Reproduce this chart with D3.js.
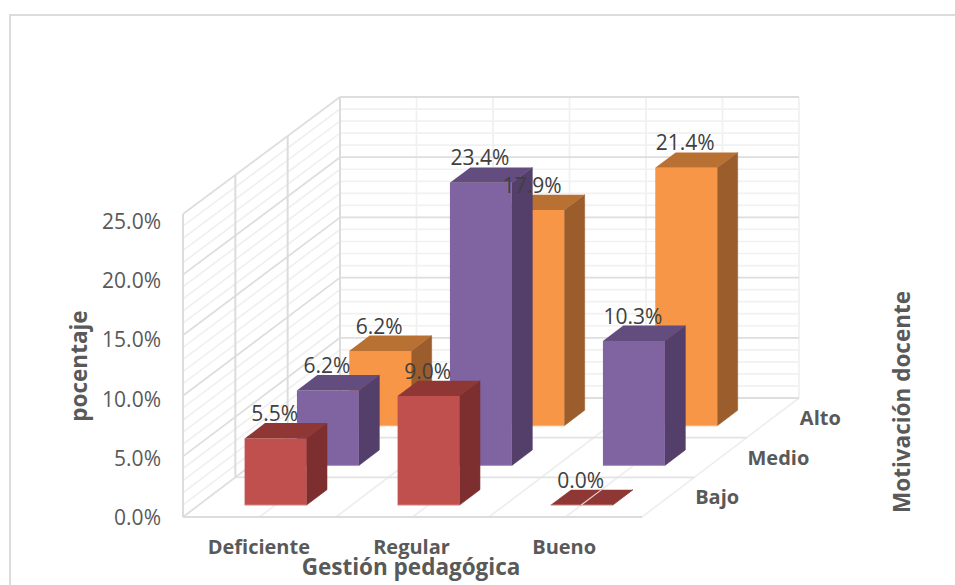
<!DOCTYPE html>
<html>
<head>
<meta charset="utf-8">
<script src="https://cdn.jsdelivr.net/npm/d3@7"></script>
<style>
  html, body { margin: 0; padding: 0; background: #fff; }
  svg { display: block; }
  text { font-family: "Open Sans", "Noto Sans", sans-serif; }
</style>
</head>
<body>
<svg id="chart" width="955" height="585"></svg>
<script>
// Percentages by teaching management level, one list per motivation row.
const categories = ["Deficiente", "Regular", "Bueno"];
const depthRows = ["Bajo", "Medio", "Alto"];
const valuesBajo = [5.5, 9.0, 0.0];
const valuesMedio = [6.2, 23.4, 10.3];
const valuesAlto = [6.2, 17.9, 21.4];
const yTicks = [0, 5, 10, 15, 20, 25];
const yMinorTicks = d3.range(0, 26);
const seriesValues = [valuesBajo, valuesMedio, valuesAlto];

const palette = [
  { face: "#c0504d", top: "#8f3735", side: "#7c2f2e", edge: "#d98f8c" },
  { face: "#8064a2", top: "#634c7e", side: "#533f69", edge: "#a892c0" },
  { face: "#f79646", top: "#b97033", side: "#9a5d2b", edge: "#f9b27a" }
];

const svg = d3.select("#chart");

// Oblique projection: u runs along the categories, w into the depth, v up the value axis.
const xBase = d3.scaleLinear().domain([0, 3]).range([183, 642]);
const xShift = d3.scaleLinear().domain([0, 3]).range([0, 157]);
const yFloor = d3.scaleLinear().domain([0, 3]).range([517, 398]);
const yRoof = d3.scaleLinear().domain([0, 3]).range([214, 97]);
// Tick labels are spaced slightly tighter than the wall's front edge
const yLabels = d3.scaleLinear().domain([0, 25]).range([517, 221]);
const xLabels = d3.scaleLinear().domain([0, 3]).range([182, 640]);

function project(u, w, v) {
  const t = v / 25;
  return [xBase(u) + xShift(w), yFloor(w) + (yRoof(w) - yFloor(w)) * t];
}
const line = pts => "M" + pts.map(p => p.join(",")).join("L");
const poly = pts => line(pts) + "Z";

// Outer chart frame, open at the right and bottom edges of the page
svg.append("path").attr("d", "M10,585V15H955")
  .attr("fill", "none").attr("stroke", "#dcdcdc").attr("stroke-width", 2);

const grid = svg.append("g").attr("fill", "none");
function gridLine(a, b, color, width) {
  grid.append("path").attr("d", line([a, b])).attr("stroke", color).attr("stroke-width", width);
}

// Minor value lines first so the major ones stay on top
yMinorTicks.filter(v => v % 5 !== 0).forEach(v => {
  gridLine(project(0, 0, v), project(0, 3, v), "#f0f0f0", 1.7);
  gridLine(project(0, 3, v), project(3, 3, v), "#f1f1f1", 1.7);
});

// Vertical minor lines on the back wall
d3.range(0.5, 3.5, 0.5).forEach(u =>
  gridLine(project(u, 3, 0), project(u, 3, 25), "#f0f0f0", 1.7));

// Floor
d3.range(0.5, 3.5, 0.5).forEach(u =>
  gridLine(project(u, 0, 0), project(u, 3, 0), "#eeeeee", 1.7));
[1, 2].forEach(w => gridLine(project(0, w, 0), project(3, w, 0), "#e3e3e3", 1.8));

// Major value lines every 5%
yTicks.forEach(v => {
  gridLine(project(0, 0, v), project(0, 3, v), "#dedede", 1.8);
  gridLine(project(0, 3, v), project(3, 3, v), "#dedede", 1.8);
});

// Vertical lines on the side wall
[0, 1, 2, 3].forEach(w => gridLine(project(0, w, 0), project(0, w, 25), "#dcdcdc", 2));
gridLine(project(0, 0, 0), project(3, 0, 0), "#dcdcdc", 2);

// Bars, painted from the back row forward
const barU = [0.30, 0.705];
const barW = [0.30, 0.69];
const bars = svg.append("g");

d3.range(2, -1, -1).forEach(r => {
  const pal = palette[r];
  seriesValues[r].forEach((value, c) => {
    const u0 = c + barU[0], u1 = c + barU[1];
    const w0 = r + barW[0], w1 = r + barW[1];
    const g = bars.append("g");
    g.append("path")
      .attr("d", poly([project(u1, w0, 0), project(u1, w1, 0), project(u1, w1, value), project(u1, w0, value)]))
      .attr("fill", pal.side).attr("stroke", pal.side).attr("stroke-width", 0.6);
    g.append("path")
      .attr("d", poly([project(u0, w0, 0), project(u1, w0, 0), project(u1, w0, value), project(u0, w0, value)]))
      .attr("fill", pal.face);
    g.append("path")
      .attr("d", poly([project(u0, w0, value), project(u1, w0, value), project(u1, w1, value), project(u0, w1, value)]))
      .attr("fill", pal.top);
    // Pale lower edge of the front face
    g.append("path")
      .attr("d", line([project(u0, w0, 0), project(u1, w0, 0)]))
      .attr("stroke", pal.edge).attr("stroke-width", 1);
    // The floor line at mid-category stays visible through a flat bar
    if (value === 0) {
      g.append("path")
        .attr("d", line([project(c + 0.5, w0, 0), project(c + 0.5, w1, 0)]))
        .attr("stroke", "#e9d5d4").attr("stroke-width", 1.2);
    }
  });
});

// Value labels sit over the back edge of each bar's cap
const labels = svg.append("g")
  .attr("text-anchor", "middle").attr("font-size", 21).attr("fill", "#404040");
seriesValues.forEach((vals, r) => {
  vals.forEach((value, c) => {
    const [x] = project(c + (barU[0] + barU[1]) / 2, r + barW[0], value);
    const [, y] = project(c, r + barW[1], value);
    labels.append("text").attr("x", x - 1).attr("y", y - 2)
      .text(value.toFixed(1) + "%");
  });
});

// Value axis beside the front edge of the side wall
const yAxis = svg.append("g").attr("transform", "translate(183,0)")
  .call(d3.axisLeft(yLabels).tickValues(yTicks).tickSize(0).tickPadding(22)
    .tickFormat(d => d.toFixed(1) + "%"));
yAxis.select(".domain").remove();
yAxis.selectAll("text").attr("font-size", 21).attr("fill", "#595959")
  .attr("font-family", null).attr("dy", "0.36em");

// Category axis under the floor
const xAxis = svg.append("g").attr("transform", "translate(0,517)")
  .call(d3.axisBottom(xLabels).tickValues([0.5, 1.5, 2.5]).tickSize(0).tickPadding(23)
    .tickFormat((d, i) => categories[i]));
xAxis.select(".domain").remove();
xAxis.selectAll("text").attr("font-size", 20).attr("font-weight", 700).attr("fill", "#595959")
  .attr("font-family", null);

// Depth axis labels along the floor's right edge
svg.append("g").selectAll("text").data(depthRows).join("text")
  .attr("x", (d, i) => project(3, i + 0.5, 0)[0] + 27)
  .attr("y", (d, i) => project(3, i + 0.5, 0)[1] + 7)
  .attr("font-size", 20).attr("font-weight", 700).attr("fill", "#595959")
  .text(d => d);

// Axis titles
const titleStyle = s => s.attr("font-weight", 700).attr("fill", "#595959")
  .attr("text-anchor", "middle").attr("font-size", 22.5);
svg.append("text").attr("x", 411).attr("y", 575)
  .call(titleStyle).text("Gestión pedagógica");
svg.append("text").attr("transform", "translate(87,366) rotate(-90)")
  .call(titleStyle).text("pocentaje");
svg.append("text").attr("transform", "translate(910,402) rotate(-90)")
  .call(titleStyle).text("Motivación docente");
</script>
</body>
</html>
